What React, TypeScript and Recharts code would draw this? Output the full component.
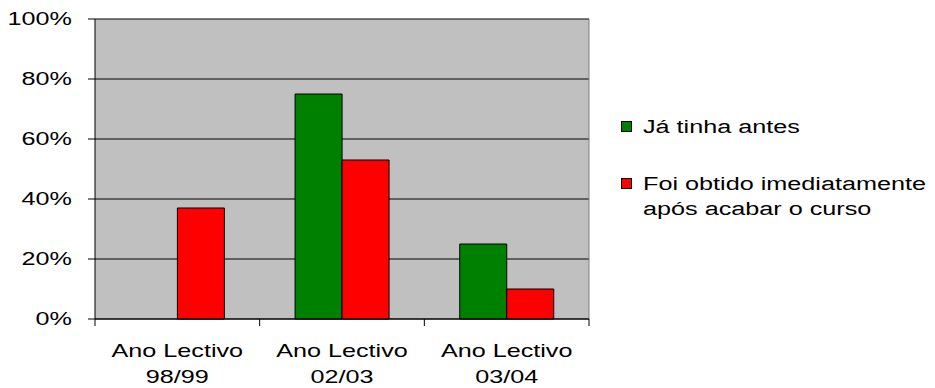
import { BarChart, Bar, XAxis, YAxis, CartesianGrid, Legend } from 'recharts';

const categories = ['Ano Lectivo 98/99', 'Ano Lectivo 02/03', 'Ano Lectivo 03/04'];
const jaTinhaAntes = [0, 75, 25];
const obtidoAposCurso = [37, 53, 10];
const percentTicks = [0, 20, 40, 60, 80, 100];

const seriesLabels = [
  ['Já tinha antes'],
  ['Foi obtido imediatamente', 'após acabar o curso'],
];
const seriesColors = ['#008000', '#FF0000'];

const data = categories.map((name, i) => ({
  name,
  antes: jaTinhaAntes[i],
  apos: obtidoAposCurso[i],
}));

const FONT = '"Liberation Sans", Arial, sans-serif';
// text in this chart is drawn wide
const STRETCH = 1.4;
const TICK = 7;

function PercentTick({ x, y, payload }: any) {
  return (
    <text
      transform={`translate(${x},${y}) scale(${STRETCH},1)`}
      textAnchor="end"
      dy="0.36em"
      fontSize={18}
      fontFamily={FONT}
      fill="#000"
    >
      {payload.value}%
    </text>
  );
}

// label centred on the band, tick marks on the band edges
function CategoryTick({ x, y, payload, index, visibleTicksCount }: any) {
  const label: string = payload.value;
  const cut = label.lastIndexOf(' ');
  const lines = [label.slice(0, cut), label.slice(cut + 1)];
  const half = payload.offset || 0;
  const edges = [x - half];
  if (index === visibleTicksCount - 1) edges.push(x + half);
  return (
    <g>
      {edges.map((ex) => (
        <line key={ex} x1={ex} x2={ex} y1={y} y2={y + TICK} stroke="#000" />
      ))}
      <g transform={`translate(${x},${y}) scale(${STRETCH},1)`}>
        {lines.map((line, i) => (
          <text
            key={i}
            x={0}
            y={38 + i * 26}
            textAnchor="middle"
            fontSize={18}
            fontFamily={FONT}
            fill="#000"
          >
            {line}
          </text>
        ))}
      </g>
    </g>
  );
}

function LegendBox() {
  return (
    <div style={{ fontFamily: FONT, fontSize: 18, lineHeight: '25px', color: '#000' }}>
      {seriesLabels.map((lines, i) => (
        <div
          key={i}
          style={{ position: 'relative', paddingLeft: 22, marginBottom: i === 0 ? 32 : 0 }}
        >
          <span
            style={{
              position: 'absolute',
              left: 0,
              top: 5.5,
              width: 9,
              height: 9,
              border: '1px solid #000',
              background: seriesColors[i],
            }}
          />
          {lines.map((line) => (
            <div
              key={line}
              style={{
                transform: `scaleX(${STRETCH})`,
                transformOrigin: 'left',
                whiteSpace: 'nowrap',
              }}
            >
              {line}
            </div>
          ))}
        </div>
      ))}
    </div>
  );
}

export default function App() {
  return (
    <div style={{ position: 'absolute', left: 0, top: 0, background: '#fff' }}>
      <BarChart
        width={935}
        height={388}
        data={data}
        margin={{ top: 19, right: 346, bottom: 0, left: 0 }}
        barCategoryGap="21.5%"
        barGap={0}
      >
        <CartesianGrid
          vertical={false}
          fill="#C0C0C0"
          fillOpacity={1}
          stroke="#000"
          strokeOpacity={1}
        />
        <CartesianGrid
          horizontal={false}
          stroke="#808080"
          verticalCoordinatesGenerator={({ offset }: any) => [offset.left + offset.width]}
        />
        <XAxis
          dataKey="name"
          height={69}
          stroke="#000"
          axisLine={{ stroke: '#000' }}
          tickLine={false}
          tickSize={0}
          tickMargin={0}
          tick={<CategoryTick />}
          interval={0}
        />
        <YAxis
          width={95}
          domain={[0, 100]}
          ticks={percentTicks}
          tickSize={TICK}
          tickMargin={16}
          stroke="#000"
          axisLine={{ stroke: '#000' }}
          tickLine={{ stroke: '#000' }}
          tick={<PercentTick />}
        />
        <Legend
          layout="horizontal"
          verticalAlign="middle"
          align="center"
          content={<LegendBox />}
          wrapperStyle={{ position: 'absolute', left: 621, top: 115, width: 314, margin: 0 }}
        />
        <Bar
          dataKey="antes"
          name={seriesLabels[0].join(' ')}
          fill={seriesColors[0]}
          stroke="#000"
          strokeWidth={1}
          isAnimationActive={false}
        />
        <Bar
          dataKey="apos"
          name={seriesLabels[1].join(' ')}
          fill={seriesColors[1]}
          stroke="#000"
          strokeWidth={1}
          isAnimationActive={false}
        />
      </BarChart>
    </div>
  );
}
